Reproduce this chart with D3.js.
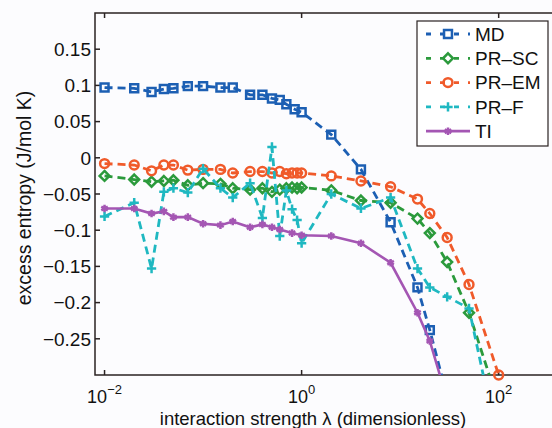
<!DOCTYPE html>
<html>
<head>
<meta charset="utf-8">
<script src="https://cdn.jsdelivr.net/npm/d3@7"></script>
<style>
  body { margin: 0; background: #fcfcfe; }
  svg { display: block; font-family: "Liberation Sans", Arial, sans-serif; }
  .frame { fill: none; stroke: #2a2222; stroke-width: 1.5; }
  .tick-label { font-size: 19px; fill: #111; }
  .axis-title { font-size: 18.5px; fill: #111; }
  .legend-text { font-size: 19px; fill: #111; }
</style>
</head>
<body>
<div id="chart"></div>
<script>
// lambda grids (dimensionless)
const lambdaMD = [0.01, 0.02, 0.03, 0.04, 0.05, 0.07, 0.1, 0.15, 0.2, 0.3, 0.4, 0.5, 0.6, 0.7, 0.85, 1, 2, 4, 8, 15, 20, 30];
const lambdaPR = [0.01, 0.02, 0.03, 0.04, 0.05, 0.07, 0.1, 0.15, 0.2, 0.3, 0.4, 0.5, 0.6, 0.7, 0.8, 0.9, 1, 2, 4, 8, 15, 20, 30, 50, 100];
const lambdaTI = [0.01, 0.02, 0.03, 0.04, 0.05, 0.07, 0.1, 0.15, 0.2, 0.3, 0.4, 0.5, 0.6, 0.8, 1, 2, 4, 8, 15, 20, 30];

// excess entropy (J/mol K)
const valuesMD = [0.097, 0.096, 0.091, 0.095, 0.096, 0.099, 0.099, 0.097, 0.097, 0.087, 0.087, 0.082, 0.080, 0.074, 0.067, 0.063, 0.032, -0.016, -0.089, -0.179, -0.238, -0.33];
const valuesSC = [-0.025, -0.030, -0.033, -0.032, -0.031, -0.038, -0.035, -0.036, -0.042, -0.044, -0.042, -0.047, -0.044, -0.042, -0.041, -0.042, -0.041, -0.045, -0.059, -0.062, -0.084, -0.104, -0.144, -0.214, -0.34];
const valuesEM = [-0.008, -0.010, -0.018, -0.010, -0.010, -0.017, -0.016, -0.016, -0.021, -0.019, -0.019, -0.021, -0.019, -0.022, -0.021, -0.021, -0.021, -0.025, -0.032, -0.040, -0.057, -0.077, -0.110, -0.175, -0.300];
const valuesF = [-0.081, -0.062, -0.153, -0.047, -0.042, -0.048, -0.015, -0.042, -0.055, -0.035, -0.083, 0.015, -0.108, -0.045, -0.071, -0.086, -0.118, -0.050, -0.070, -0.055, -0.153, -0.179, -0.192, -0.208, -0.40];
const valuesTI = [-0.070, -0.070, -0.077, -0.074, -0.082, -0.082, -0.091, -0.093, -0.088, -0.096, -0.092, -0.096, -0.099, -0.104, -0.107, -0.108, -0.118, -0.145, -0.214, -0.253, -0.334];

const xTicks = [-2, 0, 2];
const yTicks = [-0.25, -0.2, -0.15, -0.1, -0.05, 0, 0.05, 0.1, 0.15];

const series = [
  {name: 'MD', x: lambdaMD, y: valuesMD, color: '#1c5fb3', symbol: d3.symbolSquare2, size: 80, dash: '8,5'},
  {name: 'PR\u2013SC', x: lambdaPR, y: valuesSC, color: '#2b9a3c', symbol: d3.symbolDiamond2, size: 62, dash: '8,5'},
  {name: 'PR\u2013EM', x: lambdaPR, y: valuesEM, color: '#f05a2a', symbol: d3.symbolCircle, size: 62, dash: '8,5'},
  {name: 'PR\u2013F', x: lambdaPR, y: valuesF, color: '#1fb8c1', symbol: d3.symbolPlus, size: 30, dash: '8,5'},
  {name: 'TI', x: lambdaTI, y: valuesTI, color: '#a456b3', symbol: d3.symbolAsterisk, size: 40, dash: null}
];

const W = 552, H = 428;
const plot = {left: 95, top: 13, right: 558, bottom: 375};

const svg = d3.select('#chart').append('svg')
  .attr('width', W)
  .attr('height', H);

svg.append('rect').attr('width', W).attr('height', H).attr('fill', '#fcfcfe');

const x = d3.scaleLog().domain([0.008, 400]).range([plot.left, plot.right]);
const y = d3.scaleLinear().domain([-0.3, 0.2]).range([plot.bottom, plot.top]);

svg.append('clipPath').attr('id', 'clip')
  .append('rect')
  .attr('x', plot.left).attr('y', plot.top)
  .attr('width', plot.right - plot.left).attr('height', plot.bottom - plot.top);

// frame with inward ticks
const axes = svg.append('g');
axes.append('rect').attr('class', 'frame')
  .attr('x', plot.left).attr('y', plot.top)
  .attr('width', plot.right - plot.left).attr('height', plot.bottom - plot.top);

axes.selectAll('.ytick').data(yTicks).enter().append('line')
  .attr('class', 'frame')
  .attr('x1', plot.left).attr('x2', plot.left + 5)
  .attr('y1', d => y(d)).attr('y2', d => y(d));

axes.selectAll('.xtick-b').data(xTicks).enter().append('line')
  .attr('class', 'frame')
  .attr('x1', d => x(Math.pow(10, d))).attr('x2', d => x(Math.pow(10, d)))
  .attr('y1', plot.bottom).attr('y2', plot.bottom - 5);

axes.selectAll('.xtick-t').data(xTicks).enter().append('line')
  .attr('class', 'frame')
  .attr('x1', d => x(Math.pow(10, d))).attr('x2', d => x(Math.pow(10, d)))
  .attr('y1', plot.top).attr('y2', plot.top + 5);

// y tick labels, minus sign like the original
axes.selectAll('.ylab').data(yTicks).enter().append('text')
  .attr('class', 'tick-label')
  .attr('x', plot.left - 4)
  .attr('y', d => y(d))
  .attr('dy', '0.36em')
  .attr('text-anchor', 'end')
  .text(d => d3.format('')(d).replace('-', '\u2212'));

// x tick labels as 10^n
const xl = axes.selectAll('.xlab').data(xTicks).enter().append('text')
  .attr('class', 'tick-label')
  .attr('x', d => x(Math.pow(10, d)))
  .attr('y', 403)
  .attr('text-anchor', 'middle')
  .style('font-size', '18px');
xl.append('tspan').text('10');
xl.append('tspan')
  .attr('dy', -9)
  .style('font-size', '13px')
  .text(d => String(d).replace('-', '\u2212'));

svg.append('text').attr('class', 'axis-title')
  .attr('x', 313).attr('y', 425)
  .attr('text-anchor', 'middle')
  .text('interaction strength \u03bb (dimensionless)');

svg.append('text').attr('class', 'axis-title')
  .attr('transform', 'translate(31,198) rotate(-90)')
  .attr('text-anchor', 'middle')
  .style('font-size', '19.5px')
  .text('excess entropy (J/mol K)');

// data lines
const line = d3.line()
  .x(d => x(d[0]))
  .y(d => y(d[1]));

const g = svg.append('g');

series.forEach(s => {
  const pts = s.x.map((v, i) => [v, s.y[i]]);
  g.append('path')
    .attr('clip-path', 'url(#clip)')
    .attr('d', line(pts))
    .attr('fill', 'none')
    .attr('stroke', s.color)
    .attr('stroke-width', s.dash ? 2.8 : 2.6)
    .attr('stroke-dasharray', s.dash);

  // markers only where inside the y range
  g.selectAll(null).data(pts.filter(p => p[1] >= -0.301)).enter().append('path')
    .attr('transform', d => 'translate(' + x(d[0]) + ',' + y(d[1]) + ')')
    .attr('d', d3.symbol().type(s.symbol).size(s.size))
    .attr('fill', 'none')
    .attr('stroke', s.color)
    .attr('stroke-width', 2.5);
});

// legend
const legend = svg.append('g');
legend.append('rect')
  .attr('x', 417).attr('y', 21).attr('width', 131).attr('height', 125)
  .attr('fill', '#fff').attr('stroke', '#2a2222').attr('stroke-width', 1.2);

series.forEach((s, i) => {
  const ly = 34 + i * 24.3;
  legend.append('line')
    .attr('x1', 426).attr('x2', 470)
    .attr('y1', ly).attr('y2', ly)
    .attr('stroke', s.color)
    .attr('stroke-width', 2.8)
    .attr('stroke-dasharray', s.dash ? '5,9' : null);
  legend.append('path')
    .attr('transform', 'translate(448,' + ly + ')')
    .attr('d', d3.symbol().type(s.symbol).size(s.size))
    .attr('fill', 'none')
    .attr('stroke', s.color)
    .attr('stroke-width', 2.5);
  legend.append('text').attr('class', 'legend-text')
    .attr('x', 475).attr('y', ly)
    .attr('dy', '0.36em')
    .text(s.name);
});
</script>
</body>
</html>
